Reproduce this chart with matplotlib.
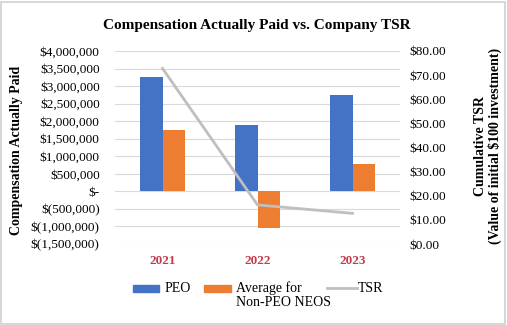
import matplotlib.pyplot as plt
from matplotlib.patches import Rectangle
from matplotlib.lines import Line2D
from matplotlib.ticker import FuncFormatter
import numpy as np

years = ["2021", "2022", "2023"]
peo = [3270000, 1890000, 2750000]
non_peo = [1760000, -1040000, 790000]
tsr = [72.8, 16.2, 12.7]

plt.rcParams['font.family'] = ['Liberation Serif', 'DejaVu Serif']

W, H = 507, 325

def money(v, pos):
    if v == 0:
        return "$-"
    if v < 0:
        return "$({:,.0f})".format(-v)
    return "${:,.0f}".format(v)

fig = plt.figure(figsize=(5.07, 3.25), dpi=100)
ax = fig.add_axes([115/W, 1 - 244/H, 285/W, 193/H])
ax2 = ax.twinx()

x = np.arange(len(years))
w = 0.24
ax.bar(x - w/2, peo, w, color='#4472C4', zorder=3)
ax.bar(x + w/2, non_peo, w, color='#ED7D31', zorder=3)
ax.set_xlim(-0.5, 2.5)
ax.set_ylim(-1500000, 4000000)
ax.set_yticks(np.arange(-1500000, 4000001, 500000))
ax.yaxis.set_major_formatter(FuncFormatter(money))
ax.grid(axis='y', color='#D9D9D9', linewidth=0.8, zorder=0)
ax.set_xticks(x)
ax.set_xticklabels(years, color='#C43C4C', fontweight='bold', fontsize=9.5)
ax.tick_params(length=0, labelsize=9.5, pad=11)
ax.tick_params(axis='x', pad=8)

ax2.plot(x, tsr, color='#BFBFBF', linewidth=2, zorder=4)
ax2.set_ylim(0, 80)
ax2.set_yticks(np.arange(0, 81, 10))
ax2.yaxis.set_major_formatter(FuncFormatter(lambda v, p: "${:.2f}".format(v)))
ax2.tick_params(length=0, labelsize=9.5, pad=7)

for a in (ax, ax2):
    for s in a.spines.values():
        s.set_visible(False)

fig.text(17/W, 1 - 150/H, "Compensation Actually Paid", rotation=90,
         ha='center', va='center', fontweight='bold', fontsize=10)
fig.text(488/W, 1 - 146/H, "Cumulative TSR\n(Value of initial $100 investment)",
         rotation=90, ha='center', va='center', fontweight='bold', fontsize=10,
         linespacing=1.0)
fig.text(257/W, 1 - 25/H, "Compensation Actually Paid vs. Company TSR",
         ha='center', va='center', fontweight='bold', fontsize=11)

# legend drawn by hand so the handles line up with the first text line
ly = 1 - 288/H
fig.add_artist(Rectangle((133/W, ly - 3.5/H), 26/W, 7/H, transform=fig.transFigure,
                         color='#4472C4'))
fig.text(165/W, ly, "PEO", ha='left', va='center', fontsize=10)
fig.add_artist(Rectangle((204/W, ly - 3.5/H), 27/W, 7/H, transform=fig.transFigure,
                         color='#ED7D31'))
fig.text(236/W, ly, "Average for", ha='left', va='center', fontsize=10)
fig.text(236/W, 1 - 303/H, "Non-PEO NEOS", ha='left', va='center', fontsize=10)
fig.add_artist(Line2D([327/W, 357/W], [ly, ly], transform=fig.transFigure,
                      color='#BFBFBF', linewidth=2))
fig.text(358/W, ly, "TSR", ha='left', va='center', fontsize=10)

fig.add_artist(Rectangle((0.002, 0.004), 0.994, 0.99, transform=fig.transFigure,
                         fill=False, edgecolor='#D0D0D0', linewidth=1.2))

fig.savefig("out.png", dpi=100)
